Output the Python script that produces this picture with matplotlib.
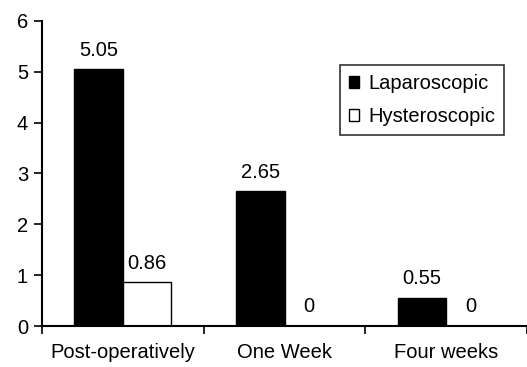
import numpy as np
import matplotlib.pyplot as plt

plt.rcParams['font.family'] = ['Liberation Sans', 'DejaVu Sans']

categories = ['Post-operatively', 'One Week', 'Four weeks']
laparoscopic = [5.05, 2.65, 0.55]
hysteroscopic = [0.86, 0, 0]
lap_labels = ['5.05', '2.65', '0.55']
hys_labels = ['0.86', '0', '0']

fs = 14.5

fig = plt.figure(figsize=(5.27, 3.67), dpi=100)
ax = fig.add_axes([0.0797, 0.1117, 0.9203, 0.8311])

x = np.arange(len(categories))
w = 0.3
b1 = ax.bar(x - w / 2, laparoscopic, w, color='black', edgecolor='black',
            linewidth=1, label='Laparoscopic')
b2 = ax.bar(x + w / 2, hysteroscopic, w, color='white', edgecolor='black',
            linewidth=1, label='Hysteroscopic')
ax.bar_label(b1, labels=lap_labels, padding=7, fontsize=fs)
ax.bar_label(b2, labels=hys_labels, padding=7, fontsize=fs)

ax.set_xlim(-0.5, 2.5)
ax.set_ylim(0, 6)
ax.set_yticks(range(7))
ax.set_xticks(x)
ax.set_xticklabels(categories)
ax.set_xticks([-0.5, 0.5, 1.5, 2.5], minor=True)
ax.tick_params(axis='x', which='major', length=0, pad=12, labelsize=fs)
ax.tick_params(axis='x', which='minor', length=6, width=1.2, direction='out')
ax.tick_params(axis='y', length=6, width=1.2, direction='out', labelsize=fs, pad=4)

for s in ['top', 'right']:
    ax.spines[s].set_visible(False)
for s in ['left', 'bottom']:
    ax.spines[s].set_linewidth(1.5)

leg = ax.legend(loc='upper right', bbox_to_anchor=(0.9526, 0.856), fontsize=fs,
                frameon=True, fancybox=False, edgecolor='black',
                handlelength=0.5, handleheight=0.5, handletextpad=0.45,
                borderpad=0.45, labelspacing=0.7, borderaxespad=0)
leg.get_frame().set_linewidth(1.2)

fig.savefig('out.png', dpi=100)
